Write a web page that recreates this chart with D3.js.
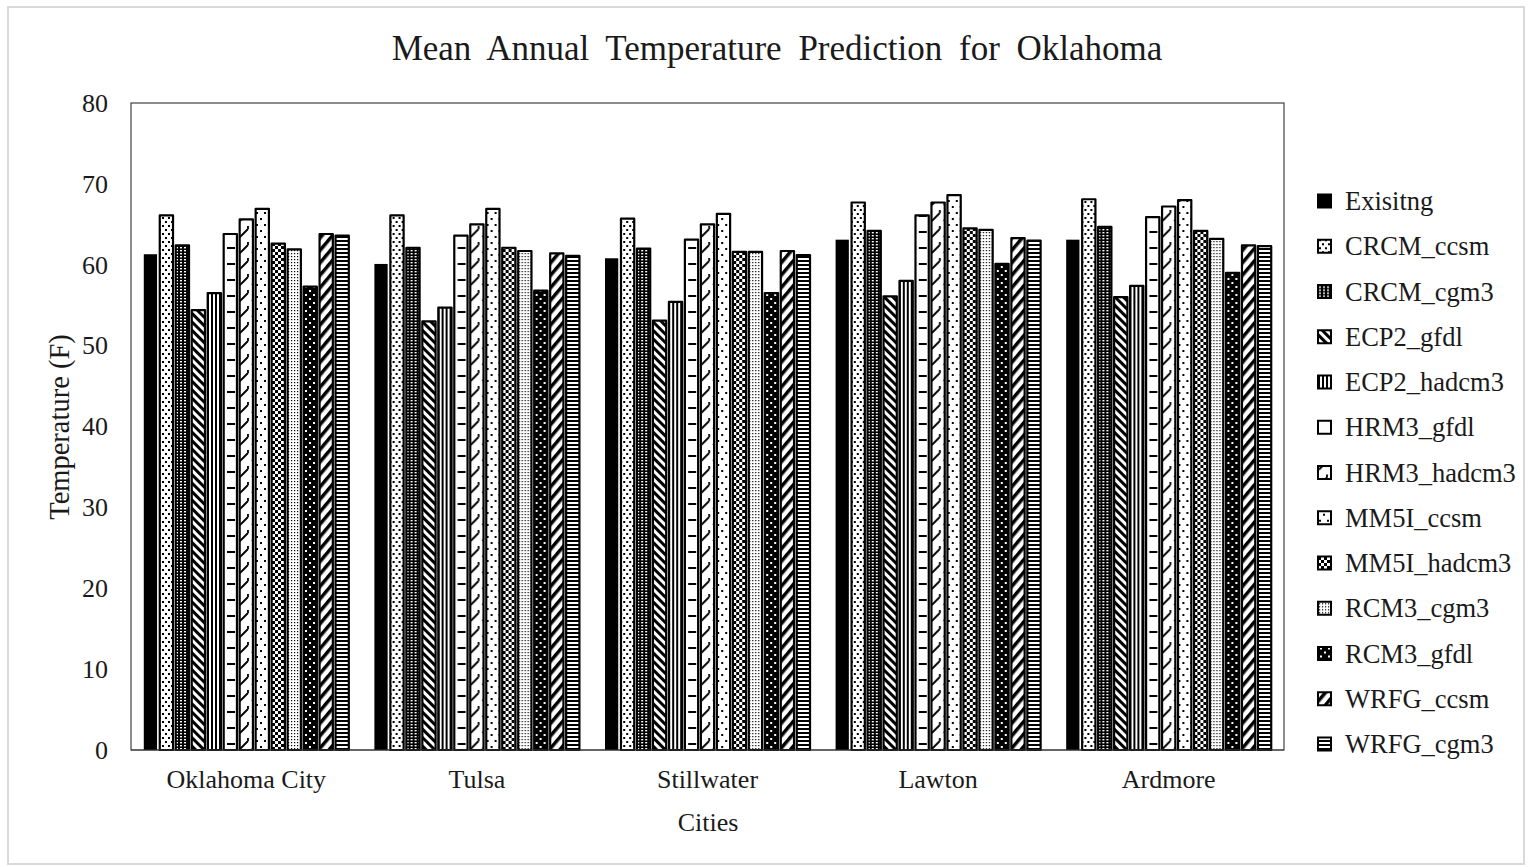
<!DOCTYPE html>
<html>
<head>
<meta charset="utf-8">
<script src="https://cdn.jsdelivr.net/npm/d3@7"></script>
<style>
  html, body { margin: 0; padding: 0; background: #fff; }
  svg text { font-family: "Liberation Serif", "Times New Roman", serif; fill: #1a1a1a; }
</style>
</head>
<body>
<svg id="chart" width="1528" height="867"></svg>
<script>
// Mean annual temperature (F) per city, one array per climate model run
const cities = ["Oklahoma City", "Tulsa", "Stillwater", "Lawton", "Ardmore"];
const seriesNames = ["Exisitng", "CRCM_ccsm", "CRCM_cgm3", "ECP2_gfdl", "ECP2_hadcm3",
  "HRM3_gfdl", "HRM3_hadcm3", "MM5I_ccsm", "MM5I_hadcm3", "RCM3_cgm3",
  "RCM3_gfdl", "WRFG_ccsm", "WRFG_cgm3"];

const existing    = [61.3, 60.1, 60.8, 63.1, 63.1];
const crcm_ccsm   = [66.1, 66.1, 65.7, 67.7, 68.1];
const crcm_cgm3   = [62.4, 62.1, 62.0, 64.2, 64.7];
const ecp2_gfdl   = [54.4, 53.0, 53.1, 56.1, 56.0];
const ecp2_hadcm3 = [56.5, 54.7, 55.4, 58.0, 57.4];
const hrm3_gfdl   = [63.8, 63.6, 63.1, 66.1, 65.9];
const hrm3_hadcm3 = [65.6, 65.0, 65.0, 67.7, 67.2];
const mm5i_ccsm   = [66.9, 66.9, 66.3, 68.6, 68.0];
const mm5i_hadcm3 = [62.6, 62.1, 61.6, 64.5, 64.2];
const rcm3_cgm3   = [61.9, 61.7, 61.6, 64.3, 63.2];
const rcm3_gfdl   = [57.3, 56.8, 56.5, 60.1, 59.0];
const wrfg_ccsm   = [63.8, 61.4, 61.7, 63.3, 62.4];
const wrfg_cgm3   = [63.6, 61.1, 61.2, 63.0, 62.3];

const seriesValues = [existing, crcm_ccsm, crcm_cgm3, ecp2_gfdl, ecp2_hadcm3,
  hrm3_gfdl, hrm3_hadcm3, mm5i_ccsm, mm5i_hadcm3, rcm3_cgm3,
  rcm3_gfdl, wrfg_ccsm, wrfg_cgm3];
const yTicks = [0, 10, 20, 30, 40, 50, 60, 70, 80];

const svg = d3.select("#chart");
const W = 1528, H = 867;
const plot = { left: 131, top: 103, right: 1284, bottom: 750 };

// ---------- fill patterns (black & white print style) ----------
const defs = svg.append("defs");
function pattern(id, w, h, draw, transform) {
  const p = defs.append("pattern").attr("id", id)
    .attr("patternUnits", "userSpaceOnUse").attr("width", w).attr("height", h);
  if (transform) p.attr("patternTransform", transform);
  draw(p);
}
const rect = (p, x, y, w, h, c) => p.append("rect").attr("x", x).attr("y", y).attr("width", w).attr("height", h).attr("fill", c);

pattern("p1", 6, 8, p => { rect(p,0,0,6,8,"#fff"); rect(p,1,1,2,2,"#000"); rect(p,4,5,2,2,"#000"); });
pattern("p2", 4, 3, p => { rect(p,0,0,4,3,"#000"); rect(p,1,1,2,1.4,"#fff"); });
pattern("p3", 6, 6, p => { rect(p,0,0,6,6,"#fff"); rect(p,0,0,3,6,"#000"); }, "rotate(-45)");
pattern("p4", 4, 4, p => { rect(p,0,0,4,4,"#fff"); rect(p,0,0,2,4,"#000"); });
pattern("p5", 16, 16, p => { rect(p,0,0,16,16,"#fff"); rect(p,0,7,8,2,"#000"); });
pattern("p6", 12, 16, p => {
  rect(p,0,0,12,16,"#fff");
  p.append("path").attr("d","M1,13 L9,5 M9,5 L9,2").attr("stroke","#000").attr("stroke-width",1.8).attr("fill","none");
});
pattern("p7", 8, 12, p => { rect(p,0,0,8,12,"#fff"); rect(p,1,2,2,2,"#000"); rect(p,5,8,2,2,"#000"); });
pattern("p8", 6, 6, p => { rect(p,0,0,6,6,"#fff"); rect(p,0,0,3,3,"#000"); rect(p,3,3,3,3,"#000"); });
pattern("p9", 3, 3, p => { rect(p,0,0,3,3,"#fff"); rect(p,1,1,1.2,1.2,"#000"); });
pattern("p10", 8, 8, p => { rect(p,0,0,8,8,"#000"); rect(p,2,2,2,2,"#fff"); rect(p,6,6,2,2,"#fff"); });
pattern("p11", 8, 8, p => { rect(p,0,0,8,8,"#fff"); rect(p,0,0,3.5,8,"#000"); }, "rotate(40)");
pattern("p12", 4, 4, p => { rect(p,0,0,4,4,"#fff"); rect(p,0,0,4,2,"#000"); });

const fills = ["#000", "url(#p1)", "url(#p2)", "url(#p3)", "url(#p4)", "url(#p5)", "url(#p6)",
  "url(#p7)", "url(#p8)", "url(#p9)", "url(#p10)", "url(#p11)", "url(#p12)"];

// ---------- chart frame ----------
svg.append("rect").attr("x", 8).attr("y", 7).attr("width", W - 12).attr("height", H - 10)
  .attr("fill", "#fff").attr("stroke", "#d9d9d9").attr("stroke-width", 2);

// ---------- scales ----------
const x0 = d3.scaleBand().domain(cities).range([plot.left, plot.right]).padding(0);
const x1 = d3.scaleBand().domain(seriesNames).range([0, x0.bandwidth()])
  .paddingInner(0.17).paddingOuter(0.8);
const y = d3.scaleLinear().domain([0, 80]).range([plot.bottom, plot.top]);

// plot area border
svg.append("rect").attr("x", plot.left).attr("y", plot.top)
  .attr("width", plot.right - plot.left).attr("height", plot.bottom - plot.top)
  .attr("fill", "none").attr("stroke", "#404040").attr("stroke-width", 1.2);

// ---------- bars ----------
const groups = svg.append("g").selectAll("g").data(cities).join("g")
  .attr("transform", c => `translate(${x0(c)},0)`);
groups.selectAll("rect")
  .data((c, ci) => seriesNames.map((s, si) => ({ s, si, v: seriesValues[si][ci] })))
  .join("rect")
  .attr("x", d => x1(d.s))
  .attr("y", d => y(d.v))
  .attr("width", x1.bandwidth())
  .attr("height", d => y(0) - y(d.v))
  .attr("fill", d => fills[d.si])
  .attr("stroke", d => d.si === 0 ? "none" : "#000")
  .attr("stroke-width", 2.2)
  .attr("stroke-linejoin", "round");

// baseline
svg.append("line").attr("x1", plot.left).attr("x2", plot.right)
  .attr("y1", y(0)).attr("y2", y(0)).attr("stroke", "#404040").attr("stroke-width", 1.2);

// ---------- axes ----------
const yAxis = svg.append("g").attr("transform", `translate(${plot.left},0)`)
  .call(d3.axisLeft(y).tickValues(yTicks).tickSize(0).tickPadding(23));
yAxis.select(".domain").remove();
yAxis.selectAll("text").attr("font-size", 26).attr("font-family", "Liberation Serif").attr("fill", "#1a1a1a");

const xAxis = svg.append("g").attr("transform", `translate(0,${plot.bottom})`)
  .call(d3.axisBottom(x0).tickSize(0).tickPadding(20));
xAxis.select(".domain").remove();
xAxis.selectAll("text").attr("font-size", 26).attr("font-family", "Liberation Serif").attr("fill", "#1a1a1a");

// ---------- titles ----------
svg.append("text").attr("x", 777).attr("y", 60).attr("text-anchor", "middle")
  .attr("font-size", 35).attr("word-spacing", 8)
  .text("Mean Annual Temperature Prediction for Oklahoma");
svg.append("text").attr("x", 708).attr("y", 831).attr("text-anchor", "middle")
  .attr("font-size", 26).text("Cities");
svg.append("text").attr("transform", "translate(69,427) rotate(-90)")
  .attr("text-anchor", "middle").attr("font-size", 28.5).text("Temperature (F)");

// ---------- legend ----------
const legend = svg.append("g").selectAll("g").data(seriesNames).join("g")
  .attr("transform", (d, i) => `translate(1318,${201 + i * 45.25})`);
legend.append("rect").attr("x", 0).attr("y", -6.5).attr("width", 13).attr("height", 13)
  .attr("fill", (d, i) => fills[i]).attr("stroke", "#000").attr("stroke-width", 2);
legend.append("text").attr("x", 27).attr("y", 9).attr("font-size", 26.5).text(d => d);
</script>
</body>
</html>
